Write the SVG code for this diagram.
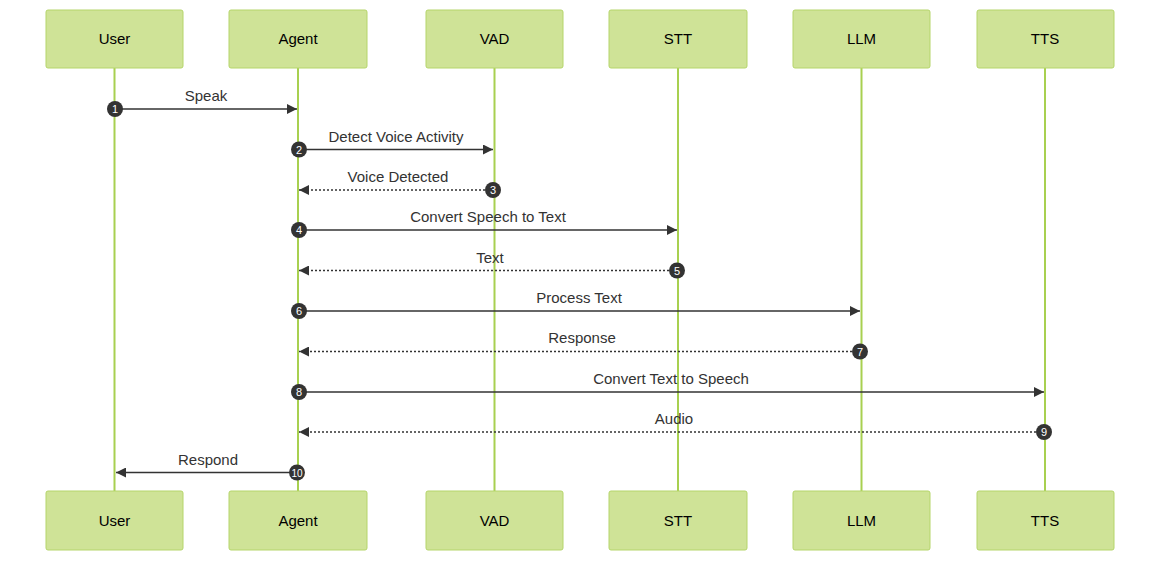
<svg xmlns="http://www.w3.org/2000/svg" width="1160" height="561" viewBox="0 0 1160 561">
<style>
.box{fill:#cfe397;stroke:#b5d56a;stroke-width:1}
.life{stroke:#a8d050;stroke-width:2}
.bt{font:15px "Liberation Sans",Arial,sans-serif;fill:#000;text-anchor:middle}
.m{stroke:#333;stroke-width:1.3;fill:none}
.d{stroke-dasharray:2,2}
.lab{font:15px "Liberation Sans",Arial,sans-serif;fill:#333;text-anchor:middle}
.n{fill:#333}
.nt{font:11px "Liberation Sans",Arial,sans-serif;fill:#fff;text-anchor:middle}
</style>
<defs><marker id="a" viewBox="0 0 10 10" refX="10" refY="5" markerWidth="10" markerHeight="10" markerUnits="userSpaceOnUse" orient="auto"><path d="M0,0L10,5L0,10z" fill="#333"/></marker></defs>
<g id="lifelines">
<line class="life" x1="114.5" y1="68" x2="114.5" y2="491"/>
<line class="life" x1="298" y1="68" x2="298" y2="491"/>
<line class="life" x1="494.5" y1="68" x2="494.5" y2="491"/>
<line class="life" x1="678" y1="68" x2="678" y2="491"/>
<line class="life" x1="861.5" y1="68" x2="861.5" y2="491"/>
<line class="life" x1="1045" y1="68" x2="1045" y2="491"/>
</g>
<g id="user"><rect class="box" x="46" y="10" width="137" height="58" rx="2"/><text class="bt" x="114.5" y="44">User</text><rect class="box" x="46" y="491" width="137" height="59" rx="2"/><text class="bt" x="114.5" y="526">User</text></g>
<g id="agent"><rect class="box" x="229" y="10" width="138" height="58" rx="2"/><text class="bt" x="298" y="44">Agent</text><rect class="box" x="229" y="491" width="138" height="59" rx="2"/><text class="bt" x="298" y="526">Agent</text></g>
<g id="vad"><rect class="box" x="426" y="10" width="137" height="58" rx="2"/><text class="bt" x="494.5" y="44">VAD</text><rect class="box" x="426" y="491" width="137" height="59" rx="2"/><text class="bt" x="494.5" y="526">VAD</text></g>
<g id="stt"><rect class="box" x="609" y="10" width="138" height="58" rx="2"/><text class="bt" x="678" y="44">STT</text><rect class="box" x="609" y="491" width="138" height="59" rx="2"/><text class="bt" x="678" y="526">STT</text></g>
<g id="llm"><rect class="box" x="793" y="10" width="137" height="58" rx="2"/><text class="bt" x="861.5" y="44">LLM</text><rect class="box" x="793" y="491" width="137" height="59" rx="2"/><text class="bt" x="861.5" y="526">LLM</text></g>
<g id="tts"><rect class="box" x="977" y="10" width="137" height="58" rx="2"/><text class="bt" x="1045" y="44">TTS</text><rect class="box" x="977" y="491" width="137" height="59" rx="2"/><text class="bt" x="1045" y="526">TTS</text></g>
<g id="messages">
<line class="m" x1="115" y1="109" x2="297" y2="109" marker-end="url(#a)"/><text class="lab" x="206" y="101">Speak</text>
<line class="m" x1="299" y1="149.5" x2="493" y2="149.5" marker-end="url(#a)"/><text class="lab" x="396" y="142">Detect Voice Activity</text>
<line class="m d" x1="493" y1="190" x2="299" y2="190" marker-end="url(#a)"/><text class="lab" x="398" y="182">Voice Detected</text>
<line class="m" x1="299" y1="230" x2="677" y2="230" marker-end="url(#a)"/><text class="lab" x="488" y="222">Convert Speech to Text</text>
<line class="m d" x1="677" y1="270.5" x2="299" y2="270.5" marker-end="url(#a)"/><text class="lab" x="490" y="263">Text</text>
<line class="m" x1="299" y1="311" x2="860" y2="311" marker-end="url(#a)"/><text class="lab" x="579" y="303">Process Text</text>
<line class="m d" x1="860" y1="351.5" x2="299" y2="351.5" marker-end="url(#a)"/><text class="lab" x="582" y="343">Response</text>
<line class="m" x1="299" y1="392" x2="1044" y2="392" marker-end="url(#a)"/><text class="lab" x="671" y="384">Convert Text to Speech</text>
<line class="m d" x1="1044" y1="432" x2="299" y2="432" marker-end="url(#a)"/><text class="lab" x="674" y="424">Audio</text>
<line class="m" x1="297" y1="472.5" x2="116" y2="472.5" marker-end="url(#a)"/><text class="lab" x="208" y="465">Respond</text>
</g>
<g id="numbers">
<circle class="n" cx="115" cy="109" r="8"/><text class="nt" x="115" y="113">1</text>
<circle class="n" cx="299" cy="149.5" r="8"/><text class="nt" x="299" y="153.5">2</text>
<circle class="n" cx="493" cy="190" r="8"/><text class="nt" x="493" y="194">3</text>
<circle class="n" cx="299" cy="230" r="8"/><text class="nt" x="299" y="234">4</text>
<circle class="n" cx="677" cy="270.5" r="8"/><text class="nt" x="677" y="274.5">5</text>
<circle class="n" cx="299" cy="311" r="8"/><text class="nt" x="299" y="315">6</text>
<circle class="n" cx="860" cy="351.5" r="8"/><text class="nt" x="860" y="355.5">7</text>
<circle class="n" cx="299" cy="392" r="8"/><text class="nt" x="299" y="396">8</text>
<circle class="n" cx="1044" cy="432" r="8"/><text class="nt" x="1044" y="436">9</text>
<circle class="n" cx="297" cy="472.5" r="8"/><text class="nt" x="297" y="476.5" style="font-size:10px">10</text>
</g>
</svg>
